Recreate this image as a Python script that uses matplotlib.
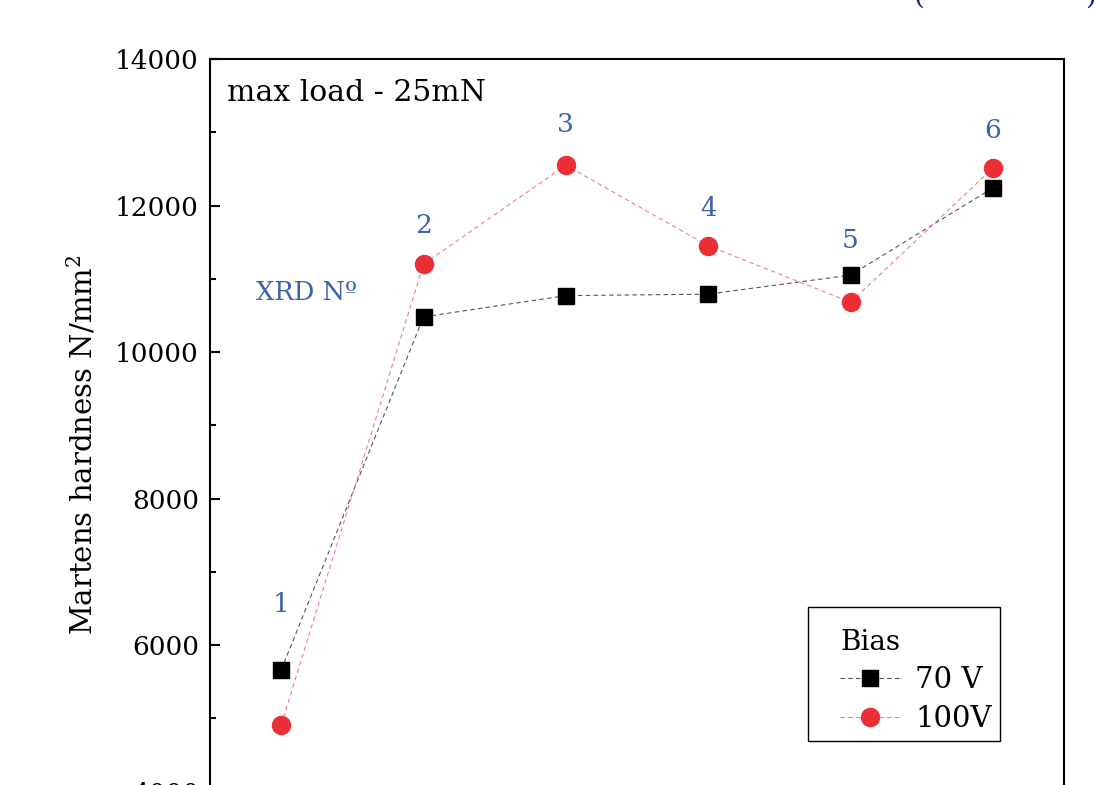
import matplotlib
matplotlib.use("Agg")
import matplotlib.pyplot as plt
from matplotlib.patches import Rectangle
from matplotlib.ticker import MultipleLocator

# ── Data ──────────────────────────────────────────────────────────────────────
xrd_no    = [1, 2, 3, 4, 5, 6]
hard_70v  = [5660, 10480, 10770, 10790, 11050, 12240]
hard_100v = [4910, 11200, 12550, 11450, 10680, 12510]
label_off = [38, 19, 20, 18, 16, 18]   # label offset above upper marker (pt)

BLUE = "#3b62ad"

plt.rcParams["font.family"] = ["DejaVu Serif"]
plt.rcParams["mathtext.fontset"] = "dejavuserif"

fig = plt.figure(figsize=(10.94, 7.85), dpi=100)
ax = fig.add_axes([0.192, -0.0083, 0.7806, 0.9331])

ax.plot(xrd_no, hard_70v, ls="--", lw=0.8, color="#555555", marker="s",
        ms=11, mfc="black", mec="black", label="70 V", dashes=(4, 3))
ax.plot(xrd_no, hard_100v, ls="--", lw=0.8, color="#f08080", marker="o",
        ms=13, mfc="#ee2e36", mec="#ee2e36", label="100V", dashes=(4, 3))

for x, a, b, off in zip(xrd_no, hard_70v, hard_100v, label_off):
    ax.annotate(str(x), (x, max(a, b)), xytext=(0, off), textcoords="offset points",
                ha="center", va="bottom", fontsize=19, color=BLUE)

ax.text(0.054, 0.681, "XRD N\u00ba", transform=ax.transAxes,
        fontsize=18.5, color=BLUE, va="center", ha="left")
ax.text(0.02, 0.9536, "max load - 25mN", transform=ax.transAxes,
        fontsize=21.5, va="center", ha="left")

ax.set_xlim(0.5, 6.5)
ax.set_ylim(4000, 14000)
ax.yaxis.set_major_locator(MultipleLocator(2000))
ax.yaxis.set_minor_locator(MultipleLocator(1000))
ax.tick_params(axis="y", which="major", direction="in", length=7, width=1.5,
               labelsize=19, pad=8)
ax.tick_params(axis="y", which="minor", direction="in", length=4, width=1.5)
ax.tick_params(axis="x", bottom=False, labelbottom=False)
for s in ax.spines.values():
    s.set_linewidth(1.5)

ax.set_ylabel("Martens hardness N/mm$^2$", fontsize=21)
ax.yaxis.set_label_coords(-0.131, 0.473)

# legend: frameless, with box drawn separately (tight right margin as in source)
leg = ax.legend(title="Bias", loc="upper left", bbox_to_anchor=(0.7377, 0.222),
                fontsize=21, title_fontsize=20, frameon=False, alignment="left",
                handlelength=2.07, handletextpad=0.5, borderpad=0,
                borderaxespad=0, labelspacing=0.36)
ax.add_patch(Rectangle((0.700, 0.069), 0.225, 0.183, transform=ax.transAxes,
                       fill=False, edgecolor="black", lw=1.0, zorder=5))

fig.text(0.835, 1.005, "(", fontsize=20, color="#1a1a8c", va="center", ha="left")
fig.text(0.992, 1.005, ")", fontsize=20, color="#1a1a8c", va="center", ha="left")

fig.savefig("out.png", dpi=100)
